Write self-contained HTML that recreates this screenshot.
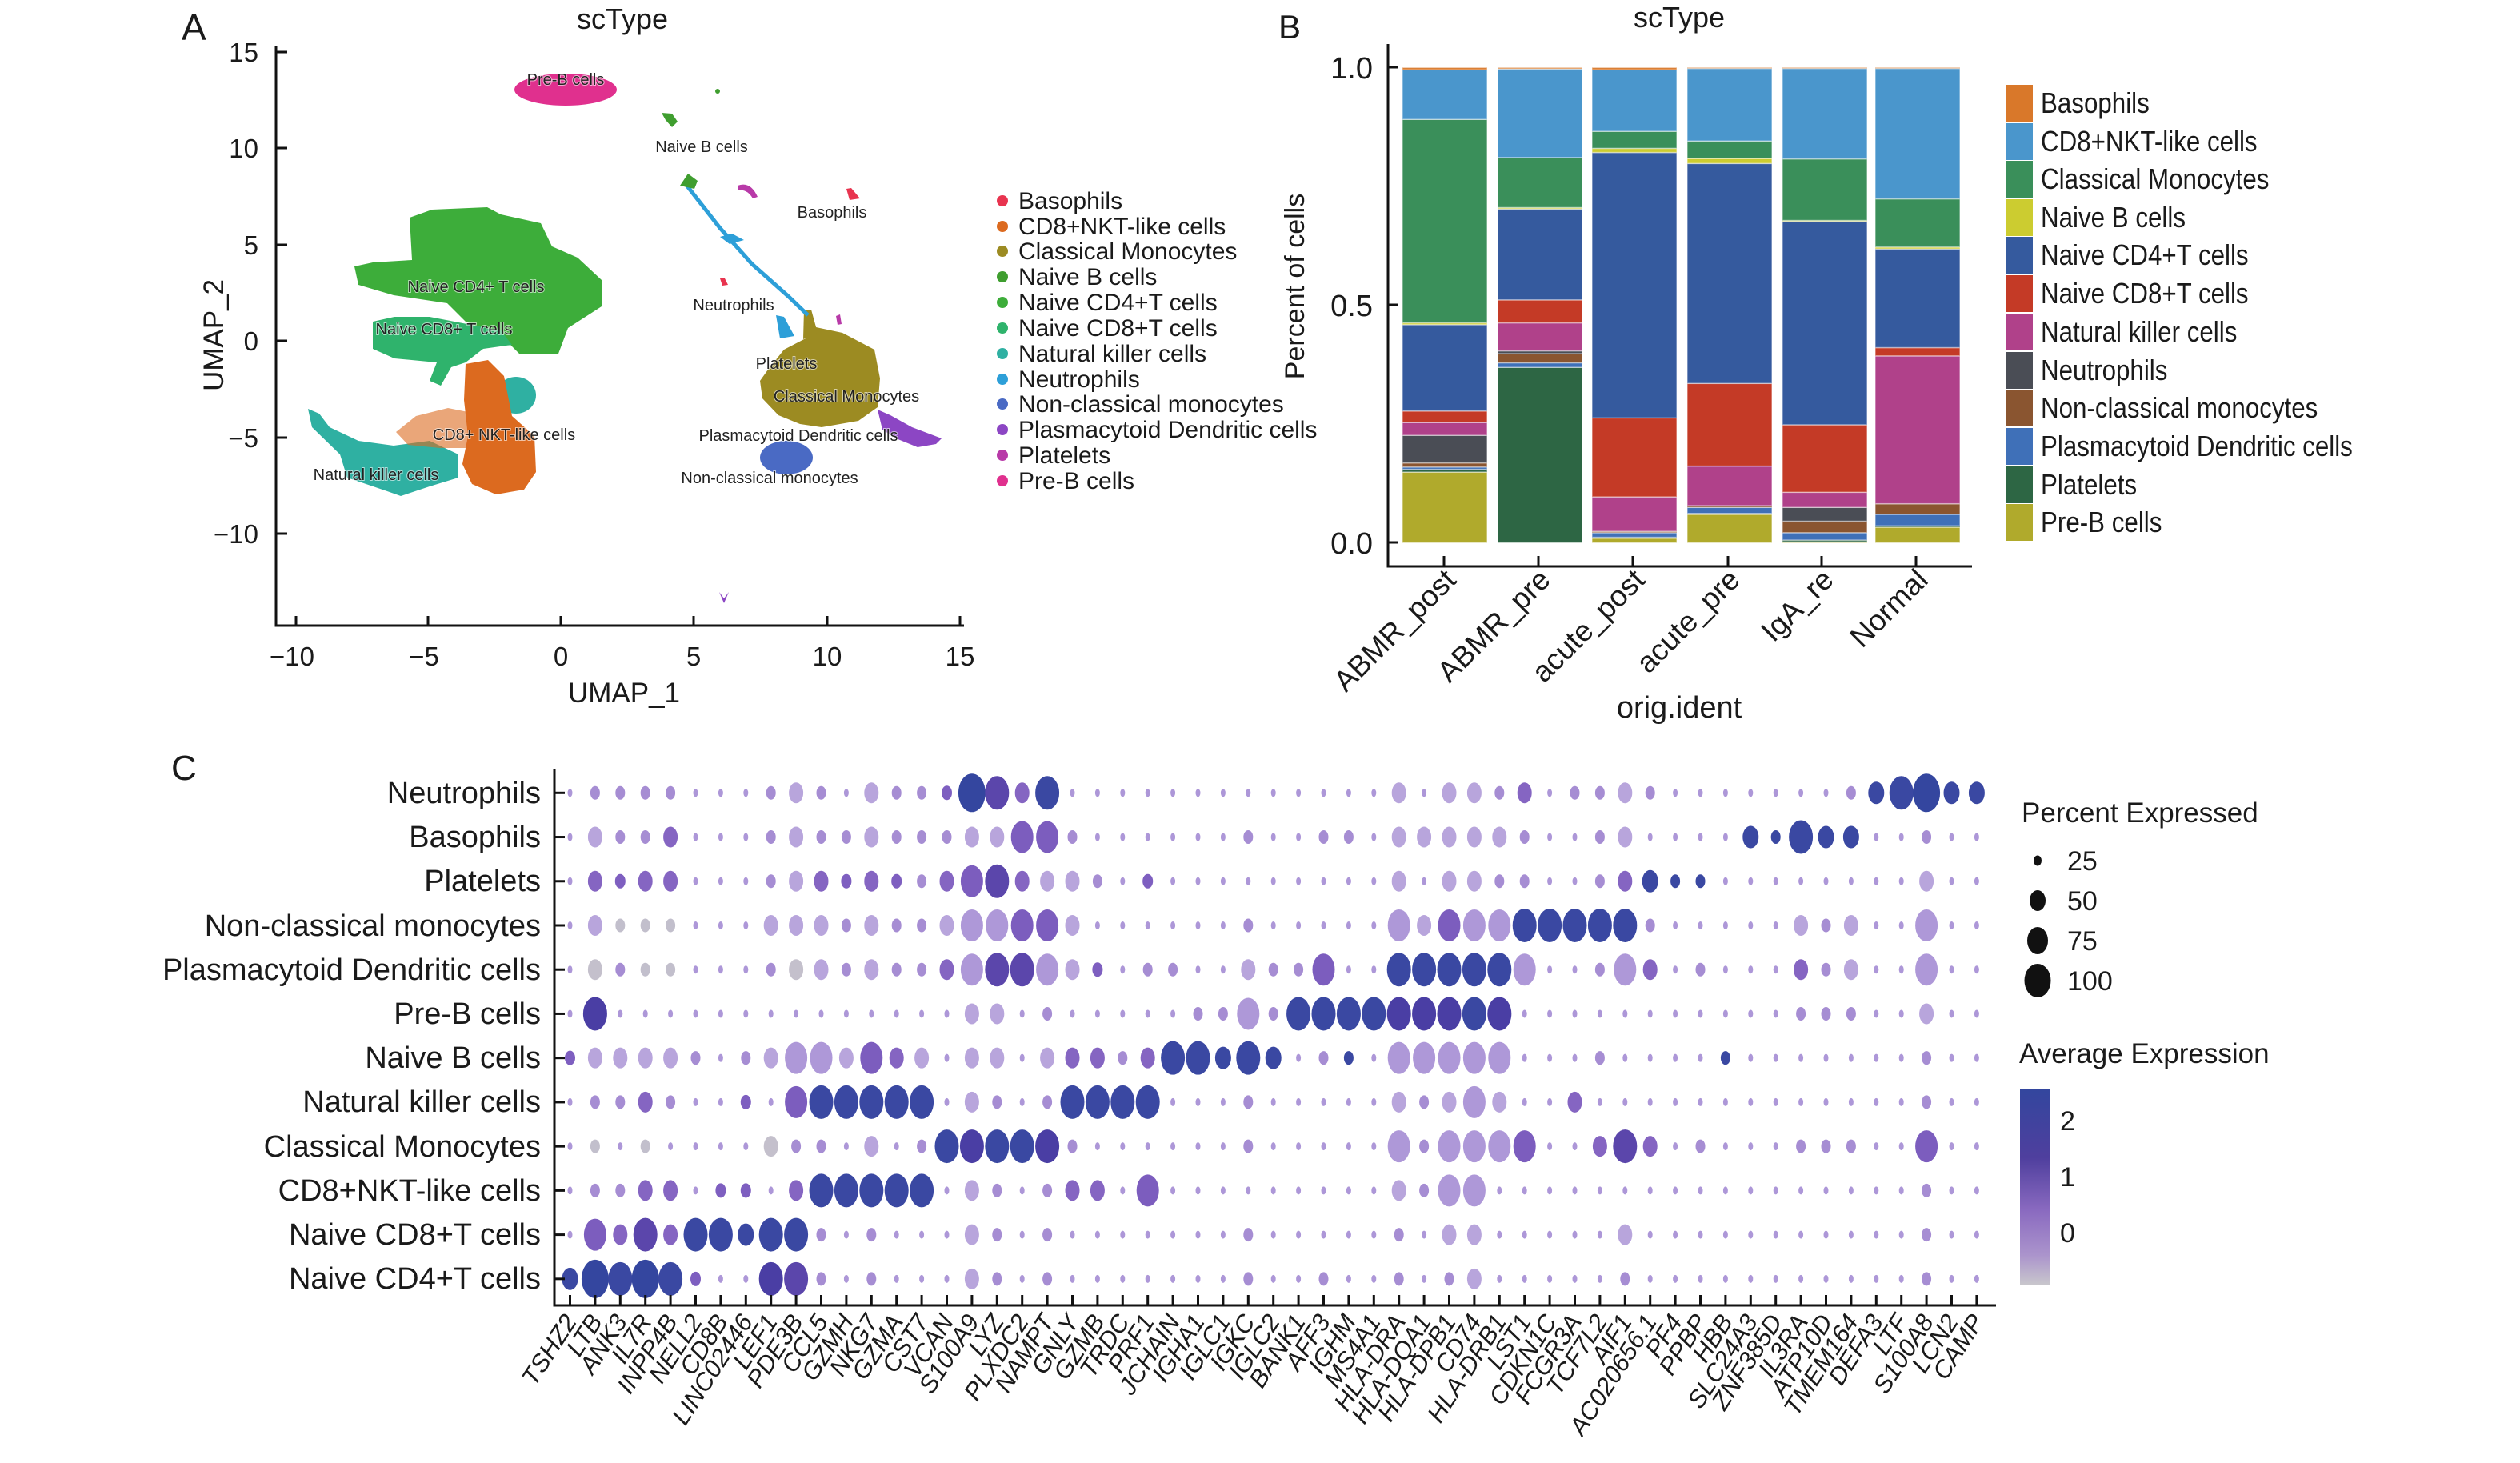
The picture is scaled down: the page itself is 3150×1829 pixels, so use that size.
<!DOCTYPE html>
<html><head><meta charset="utf-8"><style>
html,body{margin:0;padding:0;background:#fff;}
svg{display:block;}
text{font-family:"Liberation Sans",sans-serif;fill:#1a1a1a;}
text.lab{font-size:20px;fill:#222;stroke:#fff;stroke-width:2px;paint-order:stroke;stroke-opacity:0.6;}
</style></head><body>
<svg id="s" xmlns="http://www.w3.org/2000/svg" width="3150" height="1829" viewBox="0 0 3150 1829">
<rect width="3150" height="1829" fill="#fff"/>

<!-- ============ PANEL A ============ -->
<text x="227" y="50" font-size="46">A</text>
<text x="778" y="36" font-size="36" text-anchor="middle">scType</text>
<g id="umap">
 <ellipse cx="707" cy="112" rx="64" ry="20" fill="#e0308e"/>
 <polygon fill="#3dad3a" points="443,333 466,328 515,325 512,272 540,262 609,259 626,268 676,279 690,308 722,322 752,350 752,383 710,410 698,442 649,442 626,419 582,402 559,379 492,369 448,356"/>
 <polygon fill="#2fb36c" points="466,402 493,396 537,396 568,402 626,413 640,431 604,436 582,453 564,459 551,482 537,476 546,453 493,448 466,436"/>
 <polygon fill="#2fb0a2" points="385,511 399,517 412,534 448,551 492,557 537,551 573,568 573,597 537,608 501,620 484,614 434,597 425,568 390,534"/>
 <ellipse cx="645" cy="494" rx="25" ry="23" fill="#2fb0a2"/>
 <polygon fill="#dc6a1f" opacity="0.6" points="495,540 520,520 560,510 585,515 585,560 550,560 510,556"/>
 <polygon fill="#dc6a1f" points="582,455 610,450 630,470 640,520 668,545 670,590 655,612 620,618 590,605 578,580 585,545 580,500"/>
 <polygon fill="#9c8b22" points="1007,423 1020,409 1053,416 1093,437 1100,473 1097,509 1073,526 1027,534 1000,530 973,519 953,498 950,476 960,462 980,437"/>
 <polygon fill="#9c8b22" points="1005,387 1014,387 1022,416 1004,424"/>
 <ellipse cx="983" cy="572" rx="33" ry="21" fill="#4a6ac4"/>
 <polygon fill="#8c46c4" points="1097,512 1113,519 1140,534 1177,548 1170,555 1147,559 1120,548 1103,537"/>
 <polyline points="857,230 900,285 940,330 985,370 1010,394" fill="none" stroke="#2d9fd8" stroke-width="5"/>
 <polygon fill="#2d9fd8" points="970,394 980,396 993,420 975,423"/>
 <polygon fill="#2d9fd8" points="900,296 915,292 930,300 912,305"/>
 <polygon fill="#3f9e2f" points="827,141 840,142 847,152 840,159 832,150"/>
 <polygon fill="#3f9e2f" points="850,232 860,217 872,226 868,236"/>
 <circle cx="897" cy="114" r="3" fill="#3f9e2f"/>
 <path d="M922,232 Q938,226 947,246 L941,248 Q934,236 923,238 Z" fill="#b83aa8"/>
 <polygon fill="#e8344f" points="1058,236 1064,235 1075,248 1062,250"/>
 <polygon fill="#e8344f" points="900,348 906,348 910,356 903,357"/>
 <polygon fill="#b83aa8" points="1045,395 1050,393 1052,405 1047,406"/>
 <polygon fill="#8c46c4" points="899,740 905,748 911,740 905,754"/>
</g>
<text class="lab" x="707" y="106" text-anchor="middle">Pre-B cells</text>
<text class="lab" x="877" y="190" text-anchor="middle">Naive B cells</text>
<text class="lab" x="1040" y="272" text-anchor="middle">Basophils</text>
<text class="lab" x="595" y="365" text-anchor="middle">Naive CD4+ T cells</text>
<text class="lab" x="917" y="388" text-anchor="middle">Neutrophils</text>
<text class="lab" x="555" y="418" text-anchor="middle">Naive CD8+ T cells</text>
<text class="lab" x="983" y="461" text-anchor="middle">Platelets</text>
<text class="lab" x="1058" y="502" text-anchor="middle">Classical Monocytes</text>
<text class="lab" x="630" y="550" text-anchor="middle">CD8+ NKT-like cells</text>
<text class="lab" x="998" y="551" text-anchor="middle">Plasmacytoid Dendritic cells</text>
<text class="lab" x="470" y="600" text-anchor="middle">Natural killer  cells</text>
<text class="lab" x="962" y="604" text-anchor="middle">Non-classical monocytes</text>

<g stroke="#111" stroke-width="3" fill="none">
 <polyline points="345,57 345,782 1205,782"/>
 <line x1="345" y1="65" x2="359" y2="65"/><line x1="345" y1="185" x2="359" y2="185"/>
 <line x1="345" y1="306" x2="359" y2="306"/><line x1="345" y1="426" x2="359" y2="426"/>
 <line x1="345" y1="547" x2="359" y2="547"/><line x1="345" y1="667" x2="359" y2="667"/>
 <line x1="370" y1="770" x2="370" y2="782"/><line x1="535" y1="770" x2="535" y2="782"/>
 <line x1="701" y1="770" x2="701" y2="782"/><line x1="867" y1="770" x2="867" y2="782"/>
 <line x1="1034" y1="770" x2="1034" y2="782"/><line x1="1200" y1="770" x2="1200" y2="782"/>
</g>
<g font-size="33" text-anchor="end">
 <text x="323" y="77">15</text><text x="323" y="197">10</text><text x="323" y="318">5</text>
 <text x="323" y="438">0</text><text x="323" y="559">−5</text><text x="323" y="679">−10</text>
</g>
<g font-size="33" text-anchor="middle">
 <text x="365" y="832">−10</text><text x="530" y="832">−5</text><text x="701" y="832">0</text>
 <text x="867" y="832">5</text><text x="1034" y="832">10</text><text x="1200" y="832">15</text>
</g>
<text x="780" y="878" font-size="35" text-anchor="middle">UMAP_1</text>
<text transform="translate(279,419) rotate(-90)" font-size="35" text-anchor="middle">UMAP_2</text>

<g font-size="30">
 <circle cx="1253" cy="251" r="7" fill="#e8344f"/><text x="1273" y="261">Basophils</text>
 <circle cx="1253" cy="283" r="7" fill="#dc6a1f"/><text x="1273" y="293">CD8+NKT-like cells</text>
 <circle cx="1253" cy="314" r="7" fill="#9c8b22"/><text x="1273" y="324">Classical Monocytes</text>
 <circle cx="1253" cy="346" r="7" fill="#3f9e2f"/><text x="1273" y="356">Naive B cells</text>
 <circle cx="1253" cy="378" r="7" fill="#3dad3a"/><text x="1273" y="388">Naive CD4+T cells</text>
 <circle cx="1253" cy="410" r="7" fill="#2fb36c"/><text x="1273" y="420">Naive CD8+T cells</text>
 <circle cx="1253" cy="442" r="7" fill="#2fb0a2"/><text x="1273" y="452">Natural killer cells</text>
 <circle cx="1253" cy="474" r="7" fill="#2d9fd8"/><text x="1273" y="484">Neutrophils</text>
 <circle cx="1253" cy="505" r="7" fill="#4a6ac4"/><text x="1273" y="515">Non-classical monocytes</text>
 <circle cx="1253" cy="537" r="7" fill="#8c46c4"/><text x="1273" y="547">Plasmacytoid Dendritic cells</text>
 <circle cx="1253" cy="569" r="7" fill="#b83aa8"/><text x="1273" y="579">Platelets</text>
 <circle cx="1253" cy="601" r="7" fill="#e0308e"/><text x="1273" y="611">Pre-B cells</text>
</g>

<!-- ============ PANEL B ============ -->
<text x="1598" y="48" font-size="42">B</text>
<text x="2099" y="34" font-size="36" text-anchor="middle">scType</text>
<g id="bars"></g>
<g stroke="#111" stroke-width="3" fill="none">
 <polyline points="1735,55 1735,708 2465,708"/>
 <line x1="1735" y1="84" x2="1748" y2="84"/><line x1="1735" y1="381" x2="1748" y2="381"/><line x1="1735" y1="678" x2="1748" y2="678"/>
 <line x1="1805" y1="695" x2="1805" y2="708"/><line x1="1923" y1="695" x2="1923" y2="708"/><line x1="2041" y1="695" x2="2041" y2="708"/>
 <line x1="2160" y1="695" x2="2160" y2="708"/><line x1="2277" y1="695" x2="2277" y2="708"/><line x1="2395" y1="695" x2="2395" y2="708"/>
</g>
<g font-size="38" text-anchor="end">
 <text x="1716" y="98">1.0</text><text x="1716" y="395">0.5</text><text x="1716" y="692">0.0</text>
</g>
<text transform="translate(1630,358) rotate(-90)" font-size="34" text-anchor="middle">Percent of cells</text>
<g font-size="37" text-anchor="end">
 <text transform="translate(1822,727) rotate(-45)">ABMR_post</text>
 <text transform="translate(1940,727) rotate(-45)">ABMR_pre</text>
 <text transform="translate(2058,727) rotate(-45)">acute_post</text>
 <text transform="translate(2177,727) rotate(-45)">acute_pre</text>
 <text transform="translate(2294,727) rotate(-45)">IgA_re</text>
 <text transform="translate(2412,727) rotate(-45)">Normal</text>
</g>
<text x="2099" y="897" font-size="38" text-anchor="middle">orig.ident</text>

<g id="legB"></g>
<g font-size="36">
 <text transform="translate(2551,141) scale(0.87,1)">Basophils</text>
 <text transform="translate(2551,189) scale(0.87,1)">CD8+NKT-like cells</text>
 <text transform="translate(2551,236) scale(0.87,1)">Classical Monocytes</text>
 <text transform="translate(2551,284) scale(0.87,1)">Naive B cells</text>
 <text transform="translate(2551,331) scale(0.87,1)">Naive CD4+T cells</text>
 <text transform="translate(2551,379) scale(0.87,1)">Naive CD8+T cells</text>
 <text transform="translate(2551,427) scale(0.87,1)">Natural killer cells</text>
 <text transform="translate(2551,475) scale(0.87,1)">Neutrophils</text>
 <text transform="translate(2551,522) scale(0.87,1)">Non-classical monocytes</text>
 <text transform="translate(2551,570) scale(0.87,1)">Plasmacytoid Dendritic cells</text>
 <text transform="translate(2551,618) scale(0.87,1)">Platelets</text>
 <text transform="translate(2551,665) scale(0.87,1)">Pre-B cells</text>
</g>

<!-- ============ PANEL C ============ -->
<text x="214" y="975" font-size="44">C</text>
<g font-size="38" text-anchor="end">
 <text x="676" y="1004">Neutrophils</text>
 <text x="676" y="1059">Basophils</text>
 <text x="676" y="1114">Platelets</text>
 <text x="676" y="1170">Non-classical monocytes</text>
 <text x="676" y="1225">Plasmacytoid Dendritic cells</text>
 <text x="676" y="1280">Pre-B cells</text>
 <text x="676" y="1335">Naive B cells</text>
 <text x="676" y="1390">Natural killer cells</text>
 <text x="676" y="1446">Classical Monocytes</text>
 <text x="676" y="1501">CD8+NKT-like cells</text>
 <text x="676" y="1556">Naive CD8+T cells</text>
 <text x="676" y="1611">Naive CD4+T cells</text>
</g>
<g id="dots"></g>
<g id="caxes" stroke="#111" stroke-width="3" fill="none">
 <polyline points="693,962 693,1632 2495,1632"/>
</g>
<g id="genes" font-size="31" font-style="italic" text-anchor="end">
<text transform="translate(722,1652) rotate(-57)">TSHZ2</text>
<text transform="translate(754,1652) rotate(-57)">LTB</text>
<text transform="translate(785,1652) rotate(-57)">ANK3</text>
<text transform="translate(816,1652) rotate(-57)">IL7R</text>
<text transform="translate(848,1652) rotate(-57)">INPP4B</text>
<text transform="translate(879,1652) rotate(-57)">NELL2</text>
<text transform="translate(911,1652) rotate(-57)">CD8B</text>
<text transform="translate(942,1652) rotate(-57)">LINC02446</text>
<text transform="translate(973,1652) rotate(-57)">LEF1</text>
<text transform="translate(1005,1652) rotate(-57)">PDE3B</text>
<text transform="translate(1036,1652) rotate(-57)">CCL5</text>
<text transform="translate(1068,1652) rotate(-57)">GZMH</text>
<text transform="translate(1099,1652) rotate(-57)">NKG7</text>
<text transform="translate(1130,1652) rotate(-57)">GZMA</text>
<text transform="translate(1162,1652) rotate(-57)">CST7</text>
<text transform="translate(1193,1652) rotate(-57)">VCAN</text>
<text transform="translate(1225,1652) rotate(-57)">S100A9</text>
<text transform="translate(1256,1652) rotate(-57)">LYZ</text>
<text transform="translate(1287,1652) rotate(-57)">PLXDC2</text>
<text transform="translate(1319,1652) rotate(-57)">NAMPT</text>
<text transform="translate(1350,1652) rotate(-57)">GNLY</text>
<text transform="translate(1382,1652) rotate(-57)">GZMB</text>
<text transform="translate(1413,1652) rotate(-57)">TRDC</text>
<text transform="translate(1444,1652) rotate(-57)">PRF1</text>
<text transform="translate(1476,1652) rotate(-57)">JCHAIN</text>
<text transform="translate(1507,1652) rotate(-57)">IGHA1</text>
<text transform="translate(1539,1652) rotate(-57)">IGLC1</text>
<text transform="translate(1570,1652) rotate(-57)">IGKC</text>
<text transform="translate(1601,1652) rotate(-57)">IGLC2</text>
<text transform="translate(1633,1652) rotate(-57)">BANK1</text>
<text transform="translate(1664,1652) rotate(-57)">AFF3</text>
<text transform="translate(1696,1652) rotate(-57)">IGHM</text>
<text transform="translate(1727,1652) rotate(-57)">MS4A1</text>
<text transform="translate(1758,1652) rotate(-57)">HLA-DRA</text>
<text transform="translate(1790,1652) rotate(-57)">HLA-DQA1</text>
<text transform="translate(1821,1652) rotate(-57)">HLA-DPB1</text>
<text transform="translate(1853,1652) rotate(-57)">CD74</text>
<text transform="translate(1884,1652) rotate(-57)">HLA-DRB1</text>
<text transform="translate(1915,1652) rotate(-57)">LST1</text>
<text transform="translate(1947,1652) rotate(-57)">CDKN1C</text>
<text transform="translate(1978,1652) rotate(-57)">FCGR3A</text>
<text transform="translate(2010,1652) rotate(-57)">TCF7L2</text>
<text transform="translate(2041,1652) rotate(-57)">AIF1</text>
<text transform="translate(2072,1652) rotate(-57)">AC020656.1</text>
<text transform="translate(2104,1652) rotate(-57)">PF4</text>
<text transform="translate(2135,1652) rotate(-57)">PPBP</text>
<text transform="translate(2167,1652) rotate(-57)">HBB</text>
<text transform="translate(2198,1652) rotate(-57)">SLC24A3</text>
<text transform="translate(2229,1652) rotate(-57)">ZNF385D</text>
<text transform="translate(2261,1652) rotate(-57)">IL3RA</text>
<text transform="translate(2292,1652) rotate(-57)">ATP10D</text>
<text transform="translate(2324,1652) rotate(-57)">TMEM164</text>
<text transform="translate(2355,1652) rotate(-57)">DEFA3</text>
<text transform="translate(2386,1652) rotate(-57)">LTF</text>
<text transform="translate(2418,1652) rotate(-57)">S100A8</text>
<text transform="translate(2449,1652) rotate(-57)">LCN2</text>
<text transform="translate(2481,1652) rotate(-57)">CAMP</text>
</g>

<text x="2527" y="1028" font-size="35">Percent Expressed</text>
<ellipse cx="2547" cy="1076" rx="5" ry="6.5" fill="#111"/>
<ellipse cx="2547" cy="1126" rx="10" ry="13" fill="#111"/>
<ellipse cx="2547" cy="1176" rx="13" ry="17" fill="#111"/>
<ellipse cx="2547" cy="1226" rx="16.5" ry="21" fill="#111"/>
<g font-size="34"><text x="2584" y="1088">25</text><text x="2584" y="1138">50</text><text x="2584" y="1188">75</text><text x="2584" y="1238">100</text></g>
<text x="2524" y="1329" font-size="35">Average Expression</text>
<defs><linearGradient id="cg" x1="0" y1="0" x2="0" y2="1">
 <stop offset="0" stop-color="#33469e"/><stop offset="0.35" stop-color="#4f3f9e"/>
 <stop offset="0.62" stop-color="#8a6ac0"/><stop offset="0.85" stop-color="#ab94cc"/><stop offset="1" stop-color="#c8c6cc"/>
</linearGradient></defs>
<rect x="2525" y="1362" width="38" height="244" fill="url(#cg)"/>
<g font-size="34"><text x="2575" y="1413">2</text><text x="2575" y="1483">1</text><text x="2575" y="1553">0</text></g>
</svg>
<script>
(function(){
var NS="http://www.w3.org/2000/svg";
function el(p,t,a){var e=document.createElementNS(NS,t);for(var k in a)e.setAttribute(k,a[k]);p.appendChild(e);return e;}
var cols=["#d9782a","#4a96cc","#3a8f5a","#cccc30","#355a9e","#c43a26","#b0418a","#4a4d55","#8a5530","#3f70b8","#2d6644","#b0aa2c"];
var tops=[
[1028,1022,1017,1008,948,920,895,707,703,260,152,147],
[1182,800,790,770,764,703,653,455,452,343,150,147],
[1172,1170,1160,1157,1157,1082,910,332,323,286,152,147],
[1120,1118,1105,1101,1101,1015,835,356,345,307,149,147],
[1180,1176,1160,1135,1105,1072,925,482,480,346,149,147],
[1148,1145,1120,1097,1097,775,757,542,538,433,149,147]];
var bx=[[1753,1859],[1872,1978],[1990,2096],[2109,2215],[2228,2334],[2344,2450]];
var g=document.getElementById("bars");
var order=[11,10,9,8,7,6,5,4,3,2,1,0];
for(var b=0;b<6;b++){var prev=678.5;
 for(var i=0;i<12;i++){var ty=tops[b][i]*0.574; var c=cols[order[i]];
  if(prev-ty>0.3) el(g,"rect",{x:bx[b][0],y:ty,width:bx[b][1]-bx[b][0],height:prev-ty,fill:c,stroke:"rgba(255,255,255,0.45)","stroke-width":1.5});
  prev=ty;}
}
var lg=document.getElementById("legB");
var ly=[129,177,224,272,319,367,415,463,510,558,606,653];
for(var i=0;i<12;i++) el(lg,"rect",{x:2507,y:ly[i]-23,width:34,height:46,fill:cols[i]});
var rows=[
".aaaa...ab"+"a.baapDEcB"+".........."+"...b.bbac."+"aaba......"+".aCBDCC",
".baac...ab"+"aabaaabbee"+"a......a.."+"aa.bbbbba."+".ab....CAB"+"CC..a..",
".cpcc...ab"+"cpcpaceEcb"+"ba.p......"+"...b.bbaa."+".acCAA...."+"....b..",
".bGGG...bb"+"babaabddee"+"b......a.."+"...dbeddBB"+"BBBa.....b"+"ab..d..",
".gaGG...ag"+"babaacdEEd"+"bp.aa..baa"+"e..BBBBBd."+".adc.a...c"+"ab..d..",
".P........"+"......bb.a"+".....aadaB"+"BBBPPPBP.."+".........a"+"aa..b..",
"pbbbba.abd"+"dbecb.bb.b"+"ccacBBCBC."+"aA.ddddd.."+".a....A..."+"....a..",
".aaca..p.e"+"BBBBB.ba.a"+"BBBB...a.."+"...babdb.."+"c........."+"....a..",
".G.G....ga"+"a.b.aBPBBP"+"a......a.."+"...daddde."+".cEc.a...a"+"aa..e..",
".aacc.pp.c"+"BBBBB.ba.a"+"cc.e......"+"...badd..."+".........."+"....a..",
".ecEcBBCBB"+"a.a...ba.a"+".......a.."+"...a.bb..."+"..b......."+"....a..",
"CDBDBp..PE"+"a.a...ba.a"+".......a.."+"a..a.ab..."+"..a......."+"....a.."];
var S={'.':[3,5],'a':[6,8.5],'A':[6,8.5],'p':[6.5,9],'G':[6,8.5],'b':[9,13],'c':[9,13],'C':[10,14],'g':[9,13],'d':[14,20],'e':[14,20],'B':[15,21],'P':[15,21],'E':[15,21],'D':[17,24]};
var K={'.':"#ad97d8",'a':"#a68dd3",'A':"#3a48a2",'p':"#7e5fc0",'G':"#c2bfcc",'b':"#b8a5dc",'c':"#8565c2",'C':"#3a48a2",'g':"#c4c0cc",'d':"#ae98d8",'e':"#7c5dbe",'B':"#3a48a2",'P':"#4a3ea4",'E':"#5b46ab",'D':"#34469f"};
var dg=document.getElementById("dots");
for(var r=0;r<12;r++){var y=991.3+r*55.23;var s=rows[r];
 for(var k=0;k<57;k++){var ch=s.charAt(k)||'.';var sz=S[ch]||S['.'];
  el(dg,"ellipse",{cx:712.5+31.4*k,cy:y,rx:sz[0],ry:sz[1],fill:K[ch]||K['.']});}}
var ax=document.getElementById("caxes");
for(var r=0;r<12;r++){var y=991.3+r*55.23;el(ax,"line",{x1:693,y1:y,x2:706,y2:y});}
for(var k=0;k<57;k++){var x=712.5+31.4*k;el(ax,"line",{x1:x,y1:1619,x2:x,y2:1632});}
})();
</script>
</body></html>
